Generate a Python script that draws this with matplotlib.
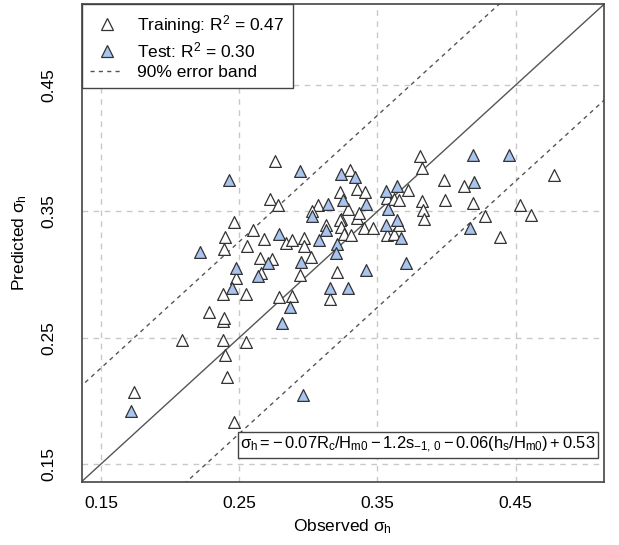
import matplotlib
matplotlib.use('Agg')
import matplotlib.pyplot as plt
from matplotlib.lines import Line2D
from matplotlib.patches import Rectangle
import numpy as np

plt.rcParams['font.family'] = ['Liberation Sans', 'DejaVu Sans']
plt.rcParams['mathtext.fontset'] = 'custom'
plt.rcParams['mathtext.rm'] = 'Liberation Sans'
plt.rcParams['mathtext.it'] = 'Liberation Sans'
plt.rcParams['mathtext.bf'] = 'Liberation Sans:bold'

train_obs = [0.174, 0.209, 0.228, 0.238, 0.239, 0.238, 0.255, 0.240, 0.241, 0.246,
             0.238, 0.255, 0.246, 0.260, 0.240, 0.268, 0.256, 0.239, 0.265, 0.274,
             0.266, 0.248, 0.276, 0.272, 0.278, 0.279, 0.288, 0.284, 0.288, 0.297,
             0.297, 0.294, 0.302, 0.307, 0.303, 0.313, 0.321, 0.316, 0.323, 0.324,
             0.323, 0.324, 0.326, 0.331, 0.330, 0.329, 0.335, 0.341, 0.335, 0.337,
             0.340, 0.347, 0.357, 0.362, 0.357, 0.362, 0.366, 0.372, 0.366, 0.381,
             0.382, 0.382, 0.383, 0.384, 0.398, 0.413, 0.399, 0.419, 0.428, 0.453,
             0.461, 0.439, 0.478]
train_pred = [0.207, 0.248, 0.270, 0.263, 0.266, 0.285, 0.285, 0.236, 0.219, 0.183,
              0.248, 0.247, 0.342, 0.335, 0.330, 0.328, 0.323, 0.320, 0.313, 0.312,
              0.301, 0.297, 0.390, 0.360, 0.355, 0.282, 0.283, 0.325, 0.327, 0.329,
              0.323, 0.300, 0.314, 0.355, 0.350, 0.339, 0.302, 0.281, 0.365, 0.344,
              0.343, 0.338, 0.332, 0.331, 0.383, 0.352, 0.368, 0.365, 0.345, 0.349,
              0.337, 0.337, 0.331, 0.332, 0.361, 0.360, 0.359, 0.367, 0.339, 0.394,
              0.384, 0.358, 0.351, 0.344, 0.375, 0.370, 0.359, 0.357, 0.346, 0.355,
              0.347, 0.330, 0.379]
test_obs = [0.172, 0.222, 0.243, 0.248, 0.245, 0.264, 0.271, 0.279, 0.287, 0.281,
            0.296, 0.294, 0.295, 0.303, 0.314, 0.313, 0.308, 0.321, 0.320, 0.316,
            0.329, 0.324, 0.334, 0.325, 0.342, 0.342, 0.356, 0.364, 0.358, 0.364,
            0.356, 0.367, 0.371, 0.419, 0.445, 0.420, 0.417]
test_pred = [0.192, 0.318, 0.375, 0.305, 0.289, 0.299, 0.309, 0.332, 0.274, 0.262,
             0.205, 0.382, 0.310, 0.346, 0.356, 0.335, 0.327, 0.324, 0.317, 0.289,
             0.289, 0.380, 0.377, 0.359, 0.356, 0.304, 0.366, 0.370, 0.352, 0.343,
             0.339, 0.329, 0.309, 0.395, 0.395, 0.373, 0.337]
banda = 0.076
ticks = [0.15, 0.25, 0.35, 0.45]
lims = [0.136, 0.514]

fig = plt.figure(figsize=(6.19, 5.45), dpi=100)
ax = fig.add_axes([0.1318, 0.1161, 0.8440, 0.8760])

# rejilla gris discontinua
for t in ticks:
    ax.axvline(t, color='#c8c8c8', lw=1, ls=(0, (4, 4)), zorder=0)
    ax.axhline(t, color='#c8c8c8', lw=1, ls=(0, (4, 4)), zorder=0)

xx = np.array([0.0, 1.0])
ax.plot(xx, xx, color='#555555', lw=1, zorder=1)
ax.plot(xx, xx + banda, color='#555555', lw=1, ls=(0, (3, 3)), zorder=1)
ax.plot(xx, xx - banda, color='#555555', lw=1, ls=(0, (3, 3)), zorder=1)

ax.scatter(train_obs, train_pred, marker='^', s=72, facecolor='white',
           edgecolor='#333333', linewidth=0.9, zorder=3)
ax.scatter(test_obs, test_pred, marker='^', s=72, facecolor='#a9c4ef',
           edgecolor='#333333', linewidth=0.9, zorder=4)

ax.set_xlim(lims)
ax.set_ylim(lims)
ax.set_xticks(ticks)
ax.set_yticks(ticks)
ax.set_xticklabels(['0.15', '0.25', '0.35', '0.45'], fontsize=12.5)
ax.set_yticklabels(['0.15', '0.25', '0.35', '0.45'], fontsize=12.5,
                   rotation=90, va='center')
ax.tick_params(axis='x', length=0, pad=10)
ax.tick_params(axis='y', length=0, pad=18)
ax.set_xlabel(r'Observed $\sigma_h$', fontsize=12.5, labelpad=5)
ax.set_ylabel(r'Predicted $\sigma_h$', fontsize=12.5, labelpad=9)
for s in ax.spines.values():
    s.set_color('#444444')
    s.set_linewidth(1.2)

# ecuación en caja
ax.add_patch(Rectangle((0.2994, 0.0496), 0.6891, 0.0545, transform=ax.transAxes,
                       facecolor='white', edgecolor='#444444', lw=1, zorder=5))
ax.text(0.644, 0.0769,
        r'$\sigma_h = -\,0.07R_c/H_{m0} - 1.2s_{-1,\,0} - 0.06(h_s/H_{m0}) + 0.53$',
        transform=ax.transAxes, ha='center', va='center', fontsize=11.9, zorder=6)

handles = [
    Line2D([], [], marker='^', ls='none', markersize=8, markerfacecolor='white',
           markeredgecolor='#333333', markeredgewidth=0.9),
    Line2D([], [], marker='^', ls='none', markersize=8, markerfacecolor='#a9c4ef',
           markeredgecolor='#333333', markeredgewidth=0.9),
    Line2D([], [], color='#555555', lw=1, ls=(0, (3, 3))),
]
labels = [r'Training: R$^2$ = 0.47', r'Test: R$^2$ = 0.30', '90% error band']
leg = ax.legend(handles, labels, loc='upper left', borderaxespad=0, fontsize=12.5,
                frameon=True, fancybox=False, framealpha=1, edgecolor='#444444',
                handlelength=1.9, handletextpad=0.8, labelspacing=0.25,
                borderpad=0.5)
leg.get_frame().set_linewidth(1)
leg.set_zorder(7)

fig.savefig('out.png', dpi=100)
